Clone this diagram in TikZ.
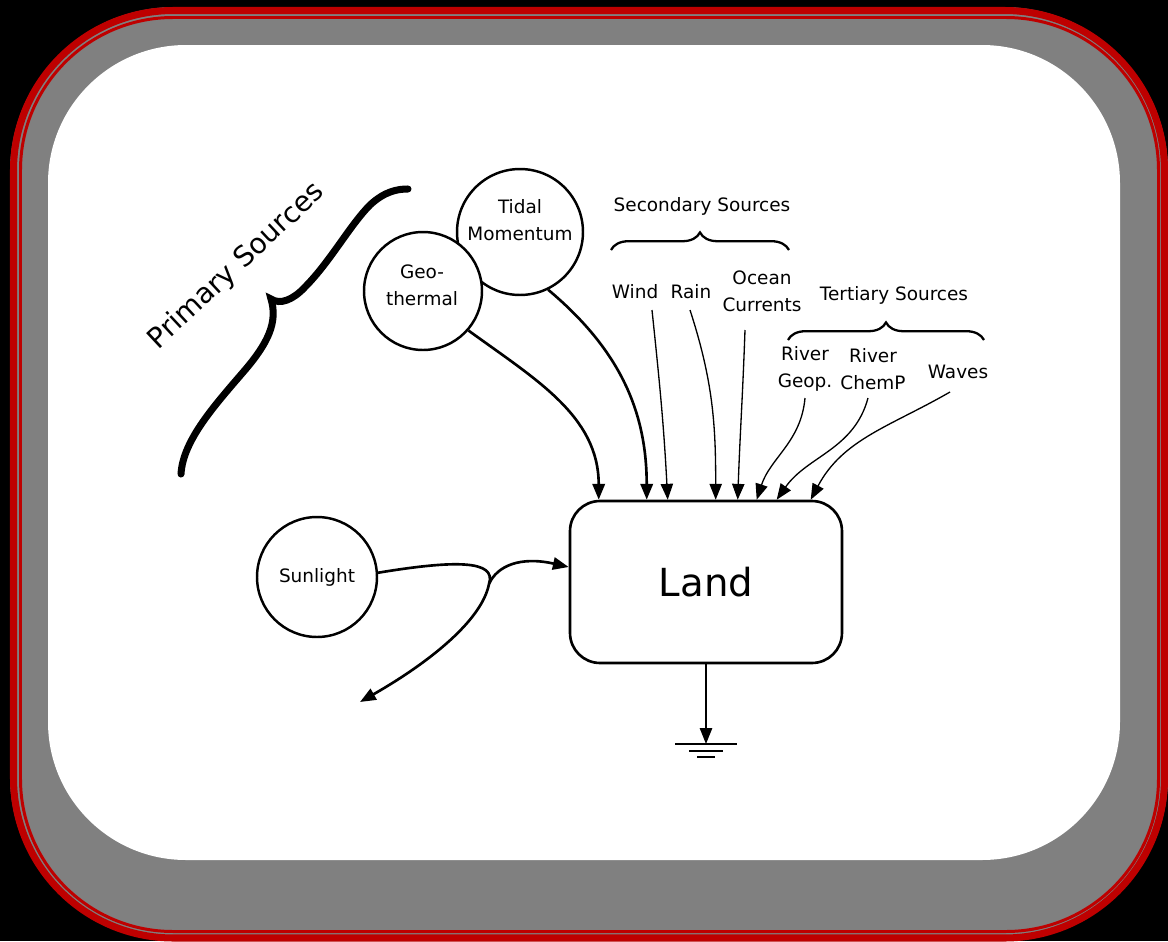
\documentclass[tikz,border=0pt]{standalone}
\usepackage{fontspec}
\setmainfont{DejaVu Sans}
\usetikzlibrary{arrows.meta,calc,decorations.pathreplacing}

\definecolor{frame red}{RGB}{190,0,0}
\definecolor{frame gray}{RGB}{128,128,128}

\begin{document}
\begin{tikzpicture}[x=0.02cm,y=-0.02cm,
  srccirc/.style={circle,draw,line width=1.4pt,fill=white,inner sep=0pt},
  lbl/.style={align=center,inner sep=1pt,font=\fontsize{10.5}{15.5}\selectfont},
  landbox/.style={rectangle,draw,line width=1.5pt,rounded corners=0.6cm,
    minimum width=5.44cm,minimum height=3.24cm,font=\fontsize{22}{26}\selectfont},
  heavy/.style={line width=1.5pt,-{Triangle[length=9pt,width=7pt]}},
  light/.style={line width=0.75pt,-{Triangle[length=9pt,width=7pt]}},
  grpbrace/.style={decorate,decoration={brace,amplitude=10pt},line width=1.3pt}]

% slide frame
\fill[black] (0,0) rectangle (1168,941);
\fill[frame gray,rounded corners=3.3cm] (10,7) rectangle (1168,941);
\draw[frame red,line width=4pt,rounded corners=3.2cm] (13.5,10.5) rectangle (1164.5,938);
\draw[frame red,line width=1.7pt,rounded corners=3.05cm] (20.5,17.5) rectangle (1158.5,931.5);
\fill[white,rounded corners=2.76cm] (48,45) rectangle (1120,860);

% energy sources
\node[srccirc,minimum size=2.52cm] (tidal) at (520,232) {};
\node[lbl] (tidaltxt) at (520,220) {Tidal\\Momentum};
\node[srccirc,minimum size=2.36cm] (geo) at (423,291) {};
\node[lbl] (geotxt) at (422,285) {Geo-\\thermal};
\node[srccirc,minimum size=2.4cm] (sun) at (317,577) {};
\node[lbl] (suntxt) at (317,577) {Sunlight};

\node[landbox] (land) at (706,582) {Land};

% group headings
\node[lbl,anchor=base,rotate=43,font=\fontsize{16}{18}\selectfont] (primary) at (242,272) {Primary Sources};
\node[lbl] (secondary) at (702,206) {Secondary Sources};
\node[lbl] (tertiary) at (894,295) {Tertiary Sources};

\node[lbl] (wind) at (635,292) {Wind};
\node[lbl] (rain) at (691,292) {Rain};
\node[lbl] (ocean) at (762,291) {Ocean\\Currents};
\node[lbl] (geop) at (805,369) {River\\Geop.};
\node[lbl] (chemp) at (873,369) {River\\ChemP};
\node[lbl] (waves) at (958,372) {Waves};

% braces
\draw[line width=4pt,line cap=round]
  (181,474) .. controls (183,440) and (215,405) .. (245,370)
  .. controls (268,343) and (278,322) .. (271,299)
  .. controls (280,305) and (293,300) .. (305,287)
  .. controls (330,262) and (350,225) .. (370,205)
  .. controls (385,191) and (398,189) .. (408,189);
\draw[grpbrace] (611,250) -- (789,250);
\draw[grpbrace] (788,340) -- (984,340);

% inflows to land
\draw[heavy] (geo.-41) to[out=-36,in=90] ($(land.north west)+(30,0)$);
\draw[heavy] (tidal.-64) to[out=-40,in=90] ($(land.north west)+(78,0)$);
\draw[light] ($(wind)+(17,18)$) to[out=-84,in=93] ($(land.north west)+(99,0)$);
\draw[light] ($(rain)+(-1,18)$) to[out=-72,in=90] ($(land.north west)+(147,0)$);
\draw[light] ($(ocean)+(-17,39)$) to[out=-92,in=88] ($(land.north west)+(169,0)$);
\draw[light] ($(geop)+(0,29)$) to[out=-95,in=72] ($(land.north west)+(188,0)$);
\draw[light] ($(chemp)+(-5,29)$) to[out=-105,in=55] ($(land.north west)+(208,0)$);
\draw[light] ($(waves)+(-8,20)$) to[out=-150,in=62] ($(land.north west)+(242,0)$);

% sunlight: partly absorbed, partly reflected
\coordinate (split) at (489,584);
\coordinate (reflect) at (360,702);
\draw[heavy] (sun.4) .. controls (455,560) and (497,560) .. (split)
  .. controls (482,620) and (430,662) .. (reflect);
\draw[heavy] (split) .. controls (497,566) and (520,556) .. ($(land.west)+(0,-15)$);

% outflow to ground
\coordinate (gnd) at (706,744);
\draw[light] (land.south) -- (gnd);
\draw[line width=0.8pt] ($(gnd)+(-31,0)$) -- ($(gnd)+(31,0)$);
\draw[line width=0.8pt] ($(gnd)+(-17,7)$) -- ($(gnd)+(17,7)$);
\draw[line width=1pt] ($(gnd)+(-9,13)$) -- ($(gnd)+(9,13)$);
\end{tikzpicture}
\end{document}
